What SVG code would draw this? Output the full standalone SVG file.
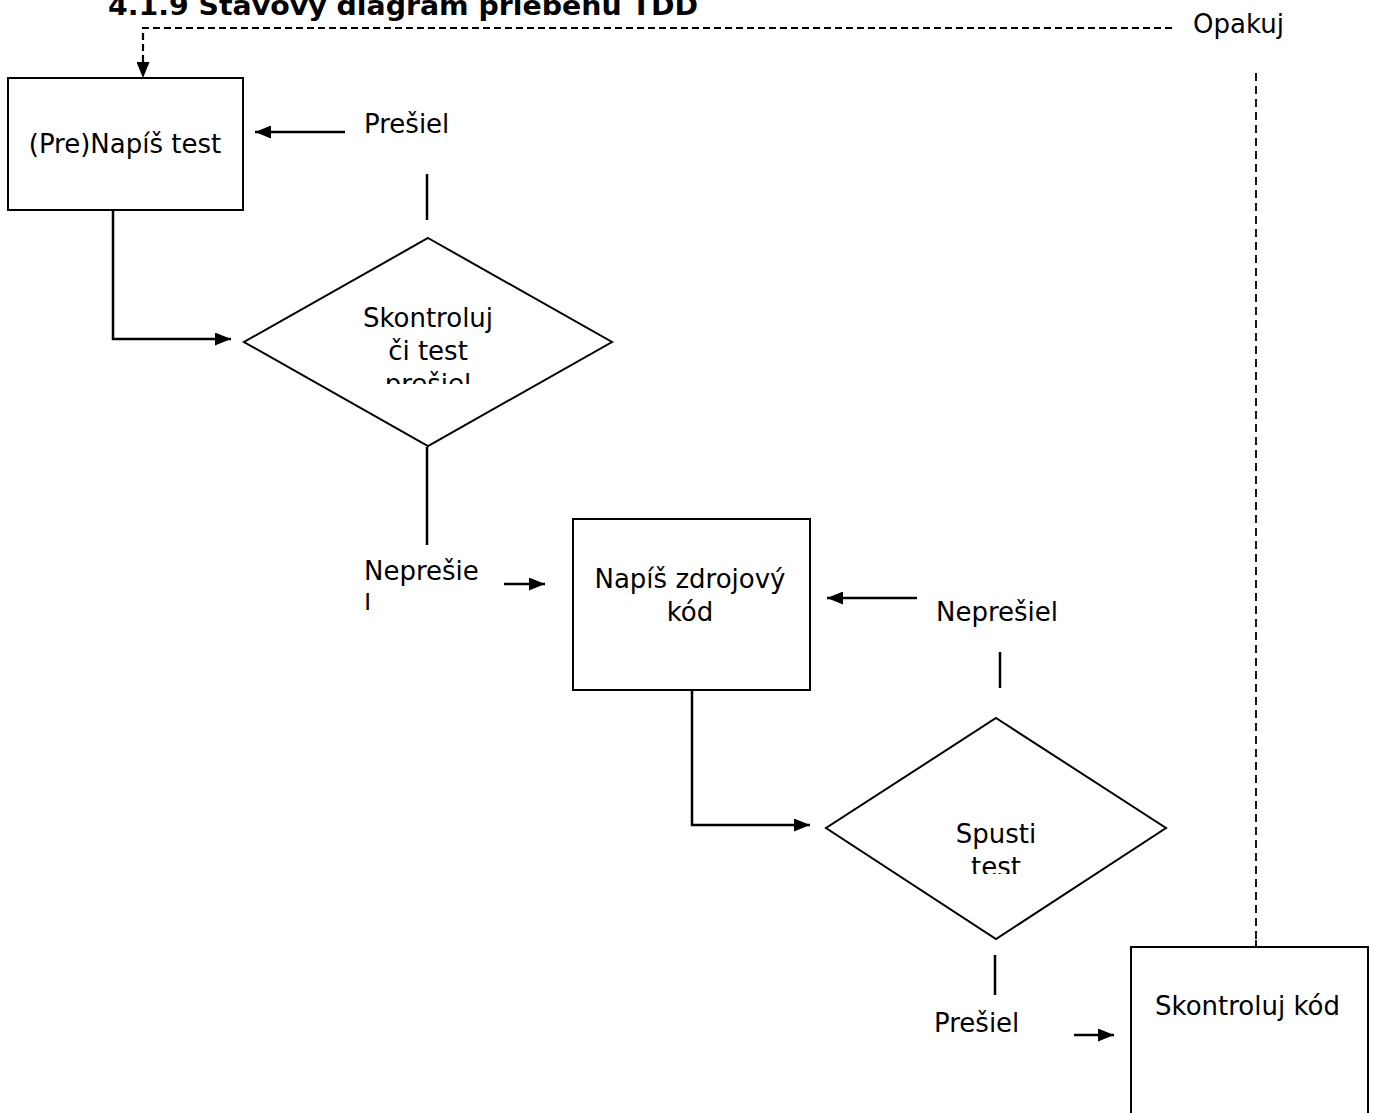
<svg xmlns="http://www.w3.org/2000/svg" width="1373" height="1113" viewBox="0 0 1373 1113">
<style>
text{font-family:"DejaVu Sans","Liberation Sans",sans-serif;font-size:26px;fill:#000}
.title{font-weight:bold;font-size:27px}
.shape{fill:#fff;stroke:#000;stroke-width:2}
.ln{fill:none;stroke:#000;stroke-width:2.5}
.dash{fill:none;stroke:#000;stroke-width:2.2;stroke-dasharray:7 4}
.dashv{fill:none;stroke:#000;stroke-width:1.8;stroke-dasharray:8 5}
.c{text-anchor:middle}
</style>
<defs>
<marker id="ah" markerUnits="userSpaceOnUse" viewBox="0 0 16 13" refX="16" refY="6.5" markerWidth="16" markerHeight="13" orient="auto">
<path d="M0,0 L16,6.5 L0,13 z" fill="#000"/>
</marker>
<clipPath id="clipD1"><rect x="300" y="290" width="260" height="94"/></clipPath>
<clipPath id="clipD2"><rect x="900" y="800" width="200" height="74"/></clipPath>
<clipPath id="clipN"><rect x="350" y="550" width="150" height="60"/></clipPath>
</defs>
<text class="title" x="108" y="15" textLength="590" lengthAdjust="spacingAndGlyphs">4.1.9 Stavový diagram priebehu TDD</text>
<g id="connectors">
<path class="dash" d="M1172,28 H143 V78" marker-end="url(#ah)"/>
<path class="dashv" d="M1256,73 V953"/>
<path class="ln" d="M345,132 H255" marker-end="url(#ah)"/>
<path class="ln" d="M427,174 V220"/>
<path class="ln" d="M113,204 V339 H231" marker-end="url(#ah)"/>
<path class="ln" d="M427,447 V545"/>
<path class="ln" d="M504,584 H545" marker-end="url(#ah)"/>
<path class="ln" d="M917,598 H827" marker-end="url(#ah)"/>
<path class="ln" d="M1000,652 V688"/>
<path class="ln" d="M692,688 V825 H810" marker-end="url(#ah)"/>
<path class="ln" d="M995,955 V995"/>
<path class="ln" d="M1074,1035 H1114" marker-end="url(#ah)"/>
<text x="1193" y="33">Opakuj</text>
<text x="364" y="133">Prešiel</text>
<g clip-path="url(#clipN)">
<text x="364" y="580">Neprešie</text>
<text x="364" y="613">l</text>
</g>
<text x="936" y="621">Neprešiel</text>
<text x="934" y="1032">Prešiel</text>
</g>
<g id="node-write-test">
<rect class="shape" x="8" y="78" width="235" height="132"/>
<text class="c" x="125" y="153">(Pre)Napíš test</text>
</g>
<g id="node-check-test">
<polygon class="shape" points="428,238 612,342 428,446 244,342"/>
<g clip-path="url(#clipD1)">
<text class="c" x="428" y="327">Skontroluj</text>
<text class="c" x="428" y="360">či test</text>
<text class="c" x="428" y="393">prešiel</text>
</g>
</g>
<g id="node-write-code">
<rect class="shape" x="573" y="519" width="237" height="171"/>
<text class="c" x="690" y="588">Napíš zdrojový</text>
<text class="c" x="690" y="621">kód</text>
</g>
<g id="node-run-test">
<polygon class="shape" points="996,718 1166,828 996,939 826,828"/>
<g clip-path="url(#clipD2)">
<text class="c" x="996" y="843">Spusti</text>
<text class="c" x="996" y="876">test</text>
</g>
</g>
<g id="node-review-code">
<path class="shape" d="M1131,1120 V947 H1368 V1120"/>
<text x="1155" y="1015">Skontroluj kód</text>
</g>
<path class="dashv" d="M1256,940 V953"/>
</svg>
